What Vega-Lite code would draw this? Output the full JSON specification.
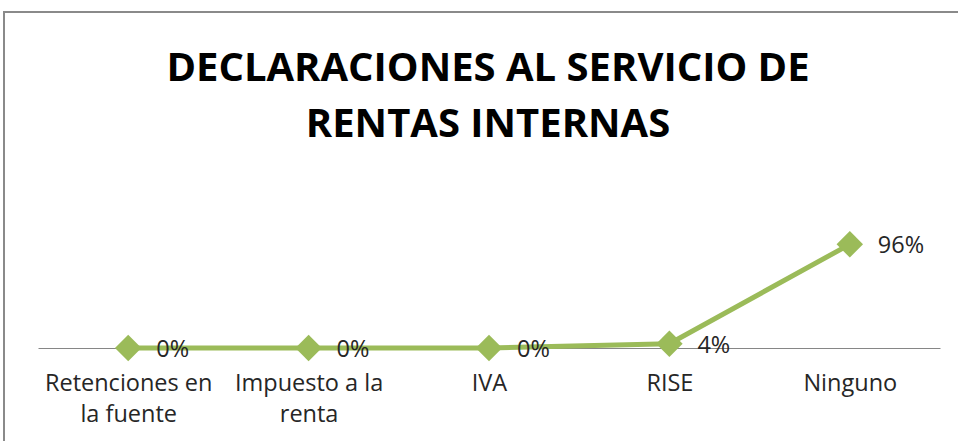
{
  "$schema": "https://vega.github.io/schema/vega-lite/v6.json",
  "autosize": "none",
  "padding": {"left": 4, "top": 12, "right": 0, "bottom": 0},
  "width": 960,
  "height": 440,
  "background": "white",
  "view": {"stroke": "#8a8a8a", "strokeWidth": 2},
  "title": {
    "text": ["DECLARACIONES AL SERVICIO DE", "RENTAS INTERNAS"],
    "font": "Open Sans",
    "fontSize": 40,
    "fontWeight": "bold",
    "color": "#000000",
    "anchor": "middle",
    "frame": "group",
    "baseline": "top",
    "offset": 0,
    "dy": 133,
    "dx": 4,
    "lineHeight": 56
  },
  "data": {
    "values": [
      {"categoria": "Retenciones en la fuente", "valor": 0},
      {"categoria": "Impuesto a la renta", "valor": 0},
      {"categoria": "IVA", "valor": 0},
      {"categoria": "RISE", "valor": 0.04},
      {"categoria": "Ninguno", "valor": 0.96}
    ]
  },
  "encoding": {
    "x": {
      "field": "categoria",
      "type": "nominal",
      "sort": null,
      "scale": {"type": "point", "range": [34, 936], "padding": 0.5},
      "axis": {
        "title": null,
        "orient": "bottom",
        "offset": -104,
        "ticks": false,
        "tickSize": 0,
        "domainColor": "#868686",
        "domainWidth": 1,
        "labelAngle": 0,
        "labelFont": "Open Sans",
        "labelFontSize": 23.5,
        "labelColor": "#262626",
        "labelPadding": 23,
        "labelLineHeight": 31,
        "labelLimit": 300,
        "labelOverlap": false,
        "grid": false,
        "labelExpr": "datum.label == 'Retenciones en la fuente' ? ['Retenciones en', 'la fuente'] : datum.label == 'Impuesto a la renta' ? ['Impuesto a la', 'renta'] : datum.label"
      }
    },
    "y": {
      "field": "valor",
      "type": "quantitative",
      "scale": {"domain": [0, 1], "range": [336, 228]},
      "axis": null
    }
  },
  "layer": [
    {"mark": {"type": "line", "color": "#9BBB59", "strokeWidth": 5}},
    {"mark": {"type": "point", "shape": "diamond", "filled": true, "size": 700, "color": "#9BBB59", "opacity": 1}},
    {
      "mark": {"type": "text", "align": "left", "baseline": "middle", "dx": 28, "dy": 2, "font": "Open Sans", "fontSize": 23.5, "color": "#262626"},
      "encoding": {"text": {"field": "valor", "type": "quantitative", "format": ".0%"}}
    }
  ]
}
